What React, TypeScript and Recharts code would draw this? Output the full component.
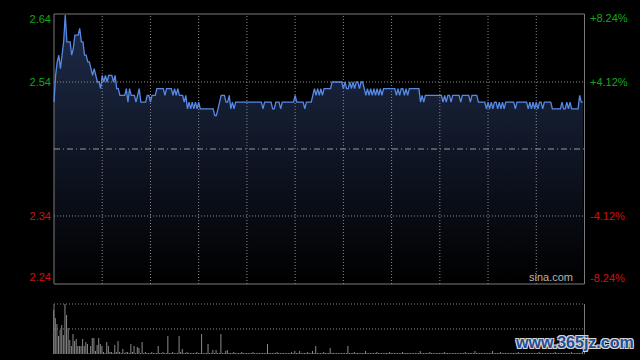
import {
  Area,
  Bar,
  BarChart,
  ComposedChart,
  Line,
  ReferenceArea,
  ReferenceLine,
  XAxis,
  YAxis,
} from "recharts";

// minute prices, 09:30-16:00 (HK session)
const PRICES = [
  2.51, 2.55, 2.57, 2.58, 2.56, 2.58, 2.6, 2.64, 2.6, 2.6, 2.6, 2.58, 2.59, 2.61, 2.61, 2.61, 2.62, 2.6, 2.6, 2.58, 2.58, 2.57, 2.57, 2.56, 2.55, 2.56, 2.55, 2.54, 2.54, 2.53,
  2.55, 2.54, 2.55, 2.54, 2.55, 2.55, 2.55, 2.54, 2.55, 2.53, 2.53, 2.52, 2.52, 2.52, 2.52, 2.53, 2.51, 2.53, 2.52, 2.52, 2.52, 2.51, 2.52, 2.53, 2.51, 2.51, 2.51, 2.51, 2.52, 2.52,
  2.51, 2.52, 2.52, 2.52, 2.53, 2.53, 2.53, 2.53, 2.53, 2.52, 2.53, 2.53, 2.53, 2.53, 2.52, 2.53, 2.52, 2.53, 2.52, 2.52, 2.52, 2.51, 2.52, 2.5, 2.51, 2.5, 2.51, 2.5, 2.51, 2.5,
  2.51, 2.5, 2.5, 2.5, 2.5, 2.5, 2.5, 2.5, 2.5, 2.5, 2.49, 2.49, 2.5, 2.51, 2.52, 2.52, 2.52, 2.51, 2.51, 2.52, 2.5, 2.51, 2.5, 2.51, 2.51, 2.51, 2.51, 2.51, 2.51, 2.51,
  2.51, 2.51, 2.51, 2.51, 2.51, 2.51, 2.51, 2.51, 2.51, 2.51, 2.5, 2.51, 2.51, 2.51, 2.51, 2.51, 2.5, 2.5, 2.51, 2.51, 2.51, 2.5, 2.51, 2.51, 2.51, 2.51, 2.51, 2.51, 2.51, 2.51,
  2.52, 2.51, 2.51, 2.51, 2.51, 2.51, 2.5, 2.51, 2.51, 2.51, 2.51, 2.52, 2.53, 2.52, 2.53, 2.52, 2.53, 2.52, 2.53, 2.53, 2.53, 2.53, 2.53, 2.54, 2.54, 2.54, 2.54, 2.54, 2.54, 2.54,
  2.53, 2.54, 2.53, 2.53, 2.54, 2.53, 2.54, 2.53, 2.54, 2.54, 2.53, 2.54, 2.54, 2.53, 2.52, 2.53, 2.52, 2.53, 2.52, 2.53, 2.52, 2.53, 2.52, 2.53, 2.52, 2.53, 2.53, 2.53, 2.53, 2.53,
  2.53, 2.53, 2.53, 2.52, 2.53, 2.52, 2.53, 2.53, 2.52, 2.53, 2.52, 2.53, 2.53, 2.53, 2.53, 2.53, 2.53, 2.53, 2.51, 2.52, 2.51, 2.52, 2.52, 2.52, 2.52, 2.52, 2.52, 2.52, 2.52, 2.52,
  2.52, 2.52, 2.51, 2.52, 2.51, 2.52, 2.52, 2.51, 2.52, 2.52, 2.52, 2.52, 2.52, 2.51, 2.52, 2.52, 2.52, 2.52, 2.52, 2.51, 2.52, 2.52, 2.52, 2.52, 2.51, 2.51, 2.51, 2.51, 2.51, 2.5,
  2.51, 2.5, 2.51, 2.5, 2.51, 2.51, 2.5, 2.51, 2.5, 2.51, 2.5, 2.51, 2.51, 2.51, 2.51, 2.51, 2.51, 2.5, 2.51, 2.51, 2.51, 2.51, 2.51, 2.51, 2.51, 2.5, 2.51, 2.5, 2.51, 2.5,
  2.51, 2.5, 2.51, 2.51, 2.5, 2.51, 2.51, 2.51, 2.51, 2.51, 2.5, 2.5, 2.5, 2.5, 2.5, 2.5, 2.51, 2.5, 2.5, 2.51, 2.5, 2.51, 2.5, 2.5, 2.5, 2.5, 2.5, 2.52, 2.51, 2.51,
];

// minute volume (relative, max = 50)
const VOLUMES = [
  44, 36, 30, 18, 24, 29, 19, 50, 39, 26, 14, 8, 20, 13, 15, 8, 8, 8, 15, 8, 12, 10, 1, 8, 16, 16, 3, 9, 16, 10,
  8, 2, 1, 12, 8, 2, 2, 1, 9, 2, 13, 2, 1, 5, 1, 2, 2, 1, 10, 2, 8, 1, 7, 6, 1, 12, 1, 2, 1, 1,
  1, 2, 1, 1, 1, 8, 1, 1, 2, 1, 1, 18, 1, 1, 2, 1, 1, 1, 18, 2, 5, 1, 1, 2, 1, 1, 1, 1, 1, 2,
  1, 1, 20, 1, 1, 1, 10, 1, 1, 4, 1, 4, 1, 1, 20, 1, 1, 3, 4, 1, 1, 1, 2, 1, 1, 1, 1, 2, 1, 1,
  1, 1, 1, 1, 2, 1, 1, 1, 1, 1, 1, 1, 1, 10, 1, 1, 1, 1, 1, 2, 1, 1, 1, 1, 1, 1, 1, 1, 2, 1,
  3, 1, 1, 3, 1, 1, 1, 1, 2, 1, 1, 3, 1, 8, 1, 1, 1, 1, 2, 1, 1, 1, 6, 1, 1, 1, 1, 1, 1, 1,
  1, 1, 1, 8, 1, 1, 1, 2, 1, 1, 1, 1, 1, 1, 3, 1, 1, 1, 1, 1, 1, 2, 1, 1, 1, 1, 1, 1, 1, 2,
  1, 1, 1, 1, 1, 1, 1, 2, 1, 1, 1, 1, 1, 1, 1, 1, 1, 1, 3, 1, 1, 1, 1, 1, 2, 1, 1, 1, 1, 1,
  1, 1, 1, 2, 1, 1, 1, 1, 1, 1, 1, 1, 1, 1, 1, 1, 2, 1, 1, 1, 1, 1, 3, 1, 1, 1, 1, 1, 1, 1,
  1, 1, 1, 3, 1, 1, 1, 1, 2, 1, 1, 1, 1, 1, 1, 1, 1, 1, 1, 2, 1, 1, 1, 1, 1, 1, 1, 1, 1, 1,
  1, 1, 2, 1, 1, 1, 1, 1, 1, 1, 1, 1, 2, 1, 1, 1, 1, 1, 1, 1, 1, 1, 2, 1, 1, 1, 1, 1, 1, 2,
];

const PREV_CLOSE = 2.44;
const PRICE_TICKS = [2.24, 2.34, 2.54, 2.64];
const PCT_TICKS = [-8.24, -4.12, 4.12, 8.24];
const TIME_GRID = [30, 60, 90, 120, 150, 180, 210, 240, 270, 300];
const SESSION_MINUTES = 330;
const VOL_MAX = 50;

const priceData = PRICES.map((p, i) => ({
  i,
  p,
  pct: ((p - PREV_CLOSE) / PREV_CLOSE) * 100,
}));
const volumeData = VOLUMES.map((v, i) => ({ i, v }));

const HALF_RANGE = 0.2015;
const priceDomain = [PREV_CLOSE - HALF_RANGE, PREV_CLOSE + HALF_RANGE];
const pctSpan = (HALF_RANGE / PREV_CLOSE) * 100;

const FONT = '"Liberation Sans", Arial, sans-serif';
const GREEN = "#12a812";
const RED = "#d01010";
const GRID = "#8c8c8c";

// the outer labels are pulled inside the frame
const shiftFor = (idx: number, count: number) =>
  idx === count - 1 ? 4 : idx === 0 ? -6 : 0;

function PriceTick(props: any) {
  const { y, payload, index } = props;
  const v = payload.value;
  return (
    <text
      x={51}
      y={y + shiftFor(index, PRICE_TICKS.length)}
      textAnchor="end"
      dominantBaseline="central"
      fontSize={11}
      fontFamily={FONT}
      fill={v > PREV_CLOSE ? GREEN : RED}
    >
      {v.toFixed(2)}
    </text>
  );
}

function PctTick(props: any) {
  const { y, payload, index } = props;
  const v = payload.value;
  return (
    <text
      x={590}
      y={y + shiftFor(index, PCT_TICKS.length)}
      textAnchor="start"
      dominantBaseline="central"
      fontSize={11}
      fontFamily={FONT}
      fill={v > 0 ? GREEN : RED}
    >
      {(v > 0 ? "+" : "") + v.toFixed(2) + "%"}
    </text>
  );
}

export default function App() {
  return (
    <div
      style={{
        position: "absolute",
        left: 0,
        top: 0,
        width: 640,
        height: 360,
        background: "#000",
        overflow: "hidden",
        fontFamily: FONT,
      }}
    >
      <ComposedChart
        width={640}
        height={300}
        data={priceData}
        margin={{ top: 14, right: 0, bottom: 16, left: 0 }}
      >
        <defs>
          <linearGradient id="priceFill" gradientUnits="userSpaceOnUse" x1="0" y1="14" x2="0" y2="284">
            <stop offset="0%" stopColor="#1f2c4b" />
            <stop offset="100%" stopColor="#000000" />
          </linearGradient>
        </defs>
        <XAxis dataKey="i" type="number" domain={[0, SESSION_MINUTES]} hide />
        <YAxis
          yAxisId="price"
          domain={priceDomain}
          ticks={PRICE_TICKS}
          width={54}
          axisLine={false}
          tickLine={false}
          tick={<PriceTick />}
          interval={0}
        />
        <YAxis
          yAxisId="pct"
          orientation="right"
          domain={[-pctSpan, pctSpan]}
          ticks={PCT_TICKS}
          width={55.5}
          axisLine={false}
          tickLine={false}
          tick={<PctTick />}
          interval={0}
        />
        <Area
          yAxisId="price"
          dataKey="p"
          type="linear"
          stroke="none"
          fill="url(#priceFill)"
          fillOpacity={1}
          isAnimationActive={false}
        />
        {TIME_GRID.map((t) => (
          <ReferenceLine key={t} yAxisId="price" x={t} stroke={GRID} strokeDasharray="1 2" />
        ))}
        <ReferenceLine yAxisId="price" y={2.54} stroke={GRID} strokeDasharray="1 2" />
        <ReferenceLine yAxisId="price" y={2.34} stroke={GRID} strokeDasharray="1 2" />
        <ReferenceLine yAxisId="price" y={PREV_CLOSE} stroke="#9a9a9a" strokeDasharray="6 3 1 3" />
        <ReferenceArea
          yAxisId="price"
          x1={0}
          x2={SESSION_MINUTES}
          y1={priceDomain[0]}
          y2={priceDomain[1]}
          fill="none"
          stroke="#7a7a7a"
          strokeWidth={1}
        />
        {/* percent-change twin of the price line, invisible; it ties the right axis in */}
        <Line
          yAxisId="pct"
          dataKey="pct"
          type="linear"
          stroke="none"
          dot={false}
          activeDot={false}
          isAnimationActive={false}
        />
        <Line
          yAxisId="price"
          dataKey="p"
          type="linear"
          stroke="#5689e6"
          strokeWidth={1.3}
          dot={false}
          activeDot={false}
          isAnimationActive={false}
        />
      </ComposedChart>

      <div
        style={{
          position: "absolute",
          left: 503,
          top: 271,
          width: 70,
          textAlign: "right",
          fontSize: 11,
          color: "#b4b4b4",
        }}
      >
        sina.com
      </div>

      <div style={{ position: "absolute", left: 0, top: 300 }}>
        <BarChart
          width={640}
          height={56}
          data={volumeData}
          margin={{ top: 4, right: 55.5, bottom: 2, left: 54 }}
        >
          <XAxis dataKey="i" type="number" domain={[0, SESSION_MINUTES]} hide />
          <YAxis domain={[0, VOL_MAX]} hide />
          <ReferenceLine y={VOL_MAX} stroke={GRID} strokeDasharray="1 2" />
          <ReferenceLine y={VOL_MAX / 2} stroke={GRID} strokeDasharray="1 2" />
          <ReferenceLine x={0} stroke="#7a7a7a" />
          <ReferenceLine x={SESSION_MINUTES} stroke="#7a7a7a" />
          <Bar dataKey="v" fill="#8a8a8a" barSize={1} isAnimationActive={false} />
        </BarChart>
      </div>

      <div
        style={{
          position: "absolute",
          left: 516,
          top: 334,
          fontSize: 16,
          fontWeight: 700,
          color: "#1f4f96",
          textShadow:
            "1px 1px 0 #d8d8d8, -1px -1px 0 #d8d8d8, 1px -1px 0 #d8d8d8, -1px 1px 0 #d8d8d8",
        }}
      >
        www.365jz.com
      </div>
    </div>
  );
}
